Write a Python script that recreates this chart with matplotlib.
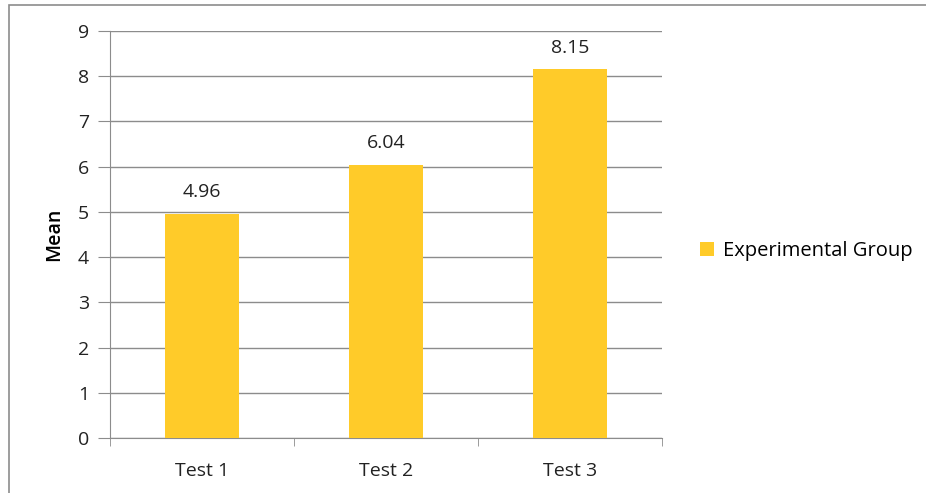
import matplotlib.pyplot as plt
from matplotlib.patches import Rectangle

# Datos
categories = ["Test 1", "Test 2", "Test 3"]
means = [4.96, 6.04, 8.15]
series_name = "Experimental Group"

plt.rcParams['font.family'] = ['Open Sans', 'DejaVu Sans']
fs = 14

fig = plt.figure(figsize=(9.26, 4.93), dpi=100)
ax = fig.add_axes([110 / 926, 1 - 438 / 493, 552 / 926, 407 / 493])

bar_color = '#FFCB29'
x = list(range(len(categories)))
bars = ax.bar(x, means, width=0.4, color=bar_color, label=series_name, zorder=3)

for xi, v in zip(x, means):
    ax.text(xi, v + 0.28, f"{v:.2f}", ha='center', va='bottom', fontsize=fs, color='#222222')

ax.set_xlim(-0.5, 2.5)
ax.set_ylim(0, 9)
ax.set_yticks(range(0, 10))
ax.yaxis.grid(True, color='#8c8c8c', linewidth=1, zorder=0)

ax.set_xticks(x)
ax.set_xticklabels(categories)
ax.set_xticks([-0.5, 0.5, 1.5, 2.5], minor=True)
ax.tick_params(axis='x', which='major', length=0, pad=17, labelsize=fs, labelcolor='#222222')
ax.tick_params(axis='x', which='minor', length=6, color='#8c8c8c', direction='out')
ax.tick_params(axis='y', length=9, color='#8c8c8c', labelsize=fs, labelcolor='#222222', pad=6)

for side in ['top', 'right']:
    ax.spines[side].set_visible(False)
for side in ['left', 'bottom']:
    ax.spines[side].set_color('#8c8c8c')

ax.set_ylabel("Mean", fontsize=fs, color='#000000', fontweight='semibold', labelpad=10)

fig.legend(handles=[bars], labels=[series_name], loc='center left',
           bbox_to_anchor=(682 / 926, 1 - 251 / 493), frameon=False,
           fontsize=14.5, handlelength=0.7, handleheight=0.7, handletextpad=0.45)

# Borde exterior
fig.patches.append(Rectangle((9 / 926, -0.1), 1.1, 1 - 5 / 493 + 0.1,
                             transform=fig.transFigure, fill=False,
                             edgecolor='#8c8c8c', linewidth=1.2))

fig.savefig("out.png", dpi=100)
